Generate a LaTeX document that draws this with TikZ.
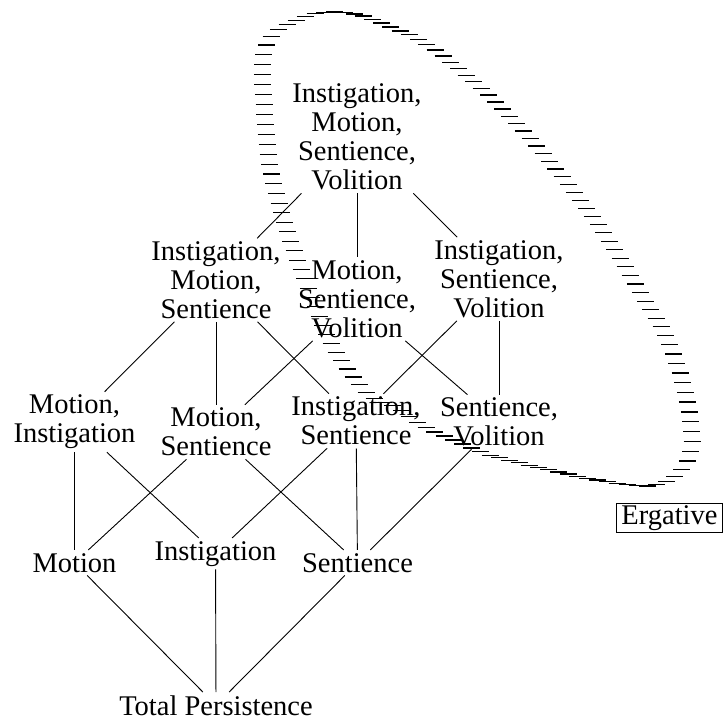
\documentclass[tikz,border=0pt]{standalone}
\usepackage{fontspec}
\setmainfont{Liberation Serif}
\usepackage{tikz}
\usetikzlibrary{decorations.markings}

\begin{document}
\begin{tikzpicture}[
  x=1pt,y=-1pt,
  lbl/.style={align=center,inner sep=3pt,font=\fontsize{28.5}{29}\selectfont},
  tag/.style={draw,line width=0.9pt,inner xsep=5pt,inner ysep=2pt,font=\fontsize{28.5}{29}\selectfont},
  link/.style={line width=0.9pt},
  hatch/.style={postaction={decorate},decoration={markings,
    mark=between positions 0 and 1 step 10pt with {\pgftransformresetnontranslations
      \draw[line width=1.2pt] (-8.5pt,0) -- (8.5pt,0);}}}
]
  \useasboundingbox (0,0) rectangle (726,724);
  \node[lbl] (imsv) at (357,137) {Instigation,\\Motion,\\Sentience,\\Volition};
  \node[lbl] (ims) at (216,280) {Instigation,\\Motion,\\Sentience};
  \node[lbl] (msv) at (357,299) {Motion,\\Sentience,\\Volition};
  \node[lbl] (isv) at (499,279) {Instigation,\\Sentience,\\Volition};
  \node[lbl] (mi) at (74.5,422) {Motion,\\Instigation};
  \node[lbl] (ms) at (216,432) {Motion,\\Sentience};
  \node[lbl] (is) at (356,421) {Instigation,\\Sentience};
  \node[lbl] (sv) at (499,422) {Sentience,\\Volition};
  \node[lbl,anchor=base] (mo) at (74.5,572) {Motion};
  \node[lbl,anchor=base] (ins) at (215.5,560) {Instigation};
  \node[lbl,anchor=base] (se) at (357.5,572) {Sentience};
  \node[lbl,anchor=base] (tp) at (216,715) {Total Persistence};
  \node[tag,anchor=base] (erg) at (669.5,524) {Ergative};
  \draw[link] (imsv) -- (ims);
  \draw[link] (imsv) -- (msv);
  \draw[link] (imsv) -- (isv);
  \draw[link] (ims) -- (mi);
  \draw[link] (ims) -- (ms);
  \draw[link] (ims) -- (is);
  \draw[link] (msv) -- (ms);
  \draw[link] (msv) -- (sv);
  \draw[link] (isv) -- (is);
  \draw[link] (isv) -- (sv);
  \draw[link] (mi) -- (mo);
  \draw[link] (mi) -- (ins);
  \draw[link] (ms) -- (mo);
  \draw[link] (ms) -- (se);
  \draw[link] (is) -- (ins);
  \draw[link] (is) -- (se);
  \draw[link] (sv) -- (se);
  \draw[link] (mo) -- (tp);
  \draw[link] (ins) -- (tp);
  \draw[link] (se) -- (tp);
  \path[hatch] plot[smooth cycle,tension=0.55] coordinates {
    (336,12) (363,16) (393,28) (425,43) (460,70) (502,108) (551,163)
    (602,230) (640,292) (667,338) (684,387) (692,433) (688,460) (668,481)
    (640,486) (592,479) (537,467) (490,455) (458,442) (425,427) (397,408)
    (367,393) (333,347) (311,295) (295,253) (281,210) (269,160) (264,103)
    (263,60) (274,33) (307,16)};
\end{tikzpicture}
\end{document}
